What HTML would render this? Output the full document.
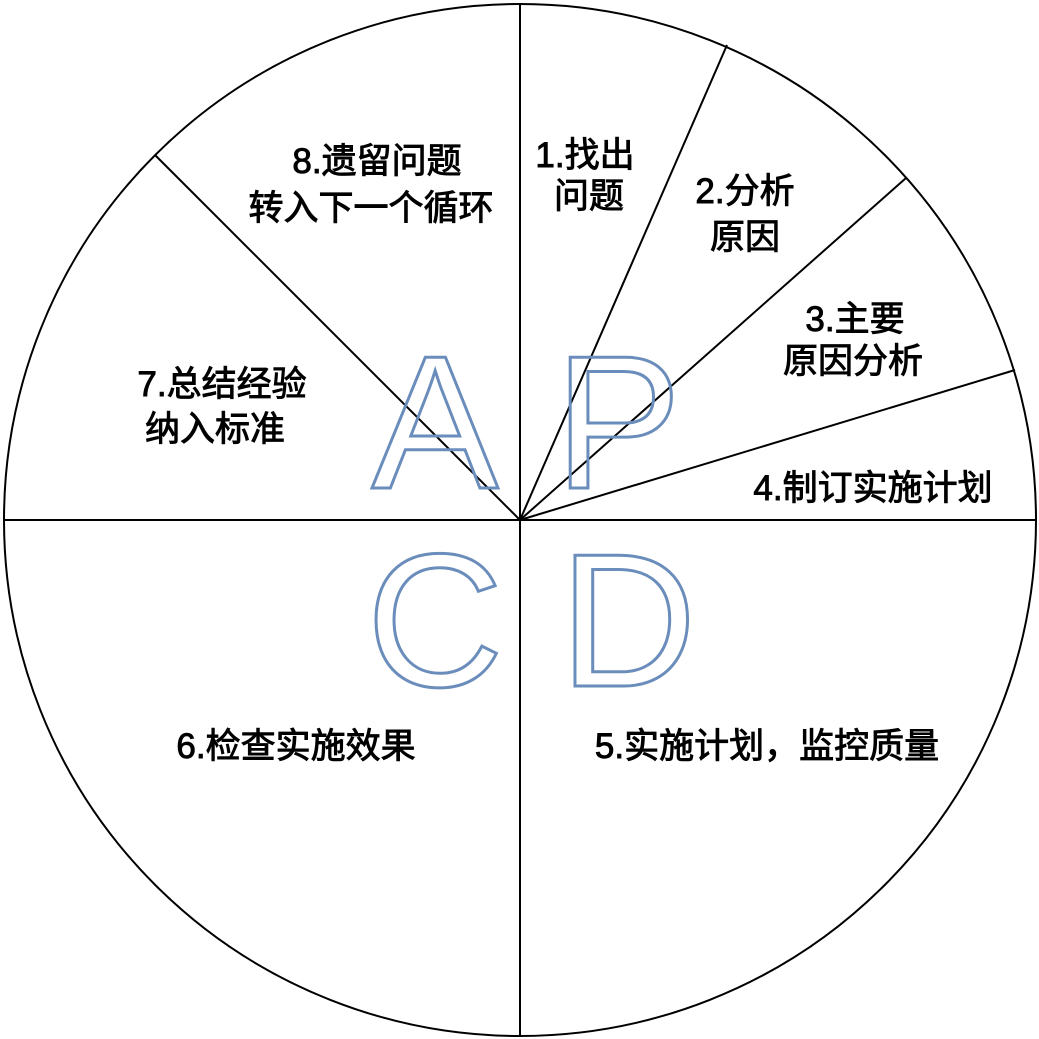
<!DOCTYPE html>
<html><head><meta charset="utf-8"><style>html,body{margin:0;padding:0;background:#fff}svg{display:block}</style></head>
<body>
<svg width="1039" height="1039" viewBox="0 0 1039 1039" xmlns="http://www.w3.org/2000/svg">
<rect width="1039" height="1039" fill="#fff"/>
<circle cx="520" cy="520" r="516" fill="#fff" stroke="#000" stroke-width="2"/>
<g stroke="#000" stroke-width="2">
<line x1="520" y1="4" x2="520" y2="1036"/>
<line x1="4" y1="520" x2="1036" y2="520"/>
<line x1="520" y1="520" x2="155" y2="155"/>
<line x1="520" y1="520" x2="727" y2="45"/>
<line x1="520" y1="520" x2="906" y2="178"/>
<line x1="520" y1="520" x2="1015" y2="370"/>
</g>
<g font-family="Liberation Sans, DejaVu Sans, sans-serif" font-size="190" fill="none" stroke="#6a8dbb" stroke-width="3" text-anchor="middle">
<text x="435" y="488">A</text>
<text x="618" y="488">P</text>
<text x="435" y="686">C</text>
<text x="628" y="686">D</text>
</g>
<g font-family="Liberation Sans, 'Noto Sans CJK SC', sans-serif" font-size="35" fill="#000" stroke="#000" stroke-width="0.9" text-anchor="middle">
<text x="585" y="167">1.找出</text>
<text x="589" y="208">问题</text>
<text x="745" y="203">2.分析</text>
<text x="745" y="249">原因</text>
<text x="855" y="331">3.主要</text>
<text x="853" y="373">原因分析</text>
<text x="873" y="500">4.制订实施计划</text>
<text x="767" y="758">5.实施计划，监控质量</text>
<text x="296" y="758">6.检查实施效果</text>
<text x="222" y="396">7.总结经验</text>
<text x="215" y="441">纳入标准</text>
<text x="377" y="173">8.遗留问题</text>
<text x="371" y="220">转入下一个循环</text>
</g>
</svg>
</body></html>
